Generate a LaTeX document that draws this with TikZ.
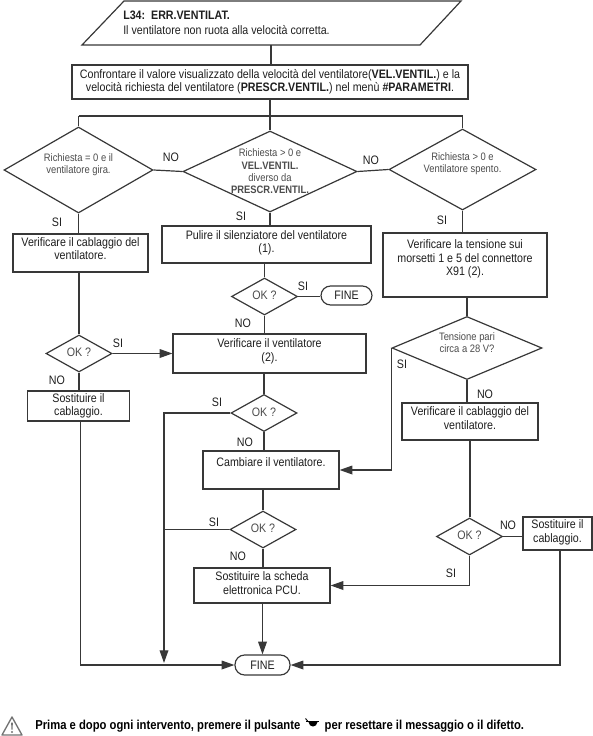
\documentclass[tikz,border=0pt]{standalone}
\usepackage{fontspec}
\setmainfont[FakeStretch=0.87]{Liberation Sans}
\usetikzlibrary{arrows.meta,shapes.geometric,calc}
\definecolor{ink}{gray}{0.22}
\definecolor{txt}{gray}{0.12}
\definecolor{dtx}{gray}{0.30}
\newcommand{\ztext}[3]{\smash{\makebox[0pt][#1]{\raisebox{#2}{\begin{tabular}{@{}#1@{}}#3\end{tabular}}}}}
\tikzset{
  x=0.75pt,y=-0.75pt,
  body/.style={font=\fontsize{9.2}{10}\selectfont,text=txt},
  box/.style={draw=ink,line width=.9pt,fill=white,inner sep=0pt,align=center,body},
  wh/.style n args={2}{minimum width=#1*0.75pt,minimum height=#2*0.75pt},
  tup/.style={text depth=#1},
  lab/.style={body,inner sep=0pt},
  dec/.style={draw=ink,line width=.9pt,fill=white,diamond,inner sep=0pt,text=dtx,font=\fontsize{8.1}{9.3}\selectfont},
  okd/.style={dec,wh={66}{37},font=\fontsize{9.2}{10}\selectfont},
  pill/.style={draw=ink,line width=.9pt,fill=white,rounded corners=7.2pt,inner sep=0pt,body},
  ln/.style={draw=ink,line width=.9pt},
  ar/.style={ln,-{Triangle[length=9.5pt,width=6.5pt]}},
}
\begin{document}
\begin{tikzpicture}
\useasboundingbox (0,0) rectangle (593,736);
% start
\coordinate (pa) at (124,1); \coordinate (pb) at (461,1); \coordinate (pc) at (420,45); \coordinate (pd) at (82,45);
\coordinate (sb) at (271,45);
\draw[ln,line join=miter] (pa)--(pb)--(pc)--(pd)--cycle;
\node[anchor=west,inner sep=0pt,align=left,text=txt,font=\fontsize{9.2}{11.2}\selectfont] (start) at (123,22.5) {\textbf{L34:\ \ ERR.VENTILAT.}\\Il ventilatore non ruota alla velocità corretta.};
\node[box,wh={396}{34}] (conf) at (270,82) {Confrontare il valore visualizzato della velocità del ventilatore(\textbf{VEL.VENTIL.}) e la\\velocità richiesta del ventilatore (\textbf{PRESCR.VENTIL.}) nel menù \textbf{\#PARAMETRI}.};
% decisions row
\node[dec,wh={149}{86}] (dL) at (78.5,170) {\ztext{c}{1.7pt}{Richiesta = 0 e il\\ventilatore gira.}};
\node[dec,wh={174}{81}] (dM) at (270,171.5) {\ztext{c}{-3pt}{Richiesta > 0 e\\\textbf{VEL.VENTIL.}\\diverso da\\\textbf{PRESCR.VENTIL.}}};
\node[dec,wh={147}{81}] (dR) at (462.5,169.5) {\ztext{c}{2.2pt}{Richiesta > 0 e\\Ventilatore spento.}};
\coordinate (jl) at (dL.north|-0,116);
\coordinate (jm) at (dM.north|-0,116);
\coordinate (jr) at (dR.north|-0,116);
\draw[ln] (sb)--(sb|-conf.north);
\draw[ln] (jm|-conf.south)--(jm);
\draw[ln] (jl)--(jr);
\draw[ln] (jl)--(dL.north);
\draw[ln] (jm)--(dM.north);
\draw[ln] (jr)--(dR.north);
\draw[ln] (dL.east)--(dM.west);
\draw[ln] (dM.east)--(dR.west);
\node[lab] (n1) at (171,157) {NO};
\node[lab] (n2) at (371,160) {NO};
\node[lab] (s1) at (57,222) {SI};
\node[lab] (s2) at (241,216) {SI};
\node[lab] (s3) at (442,220) {SI};
% second row
\node[box,wh={135}{38},tup=6.5pt] (vc) at (80.5,253) {Verificare il cablaggio del\\ventilatore.};
\node[box,wh={209}{37},tup=4.3pt] (pu) at (266.5,244.5) {Pulire il silenziatore del ventilatore\\(1).};
\node[box,wh={164}{64},tup=11pt] (vt) at (465,265) {Verificare la tensione sui\\morsetti 1 e 5 del connettore\\X91 (2).};
\draw[ln] (dL.south)--(dL.south|-vc.north);
\draw[ln] (dM.south)--(dM.south|-pu.north);
\draw[ln] (dR.south)--(dR.south|-vt.north);
% middle column
\node[okd] (ok1) at (264.5,296.5) {\ztext{c}{-2.2pt}{OK ?}};
\node[pill,wh={51}{19}] (f1) at (346.5,295.5) {FINE};
\draw[ln] (ok1.north|-pu.south)--(ok1.north);
\draw[ln] (ok1.east)--(ok1.east-|f1.west);
\node[lab] (s4) at (303,286) {SI};
\node[lab] (n3) at (243,323) {NO};
\node[box,wh={193}{39},tup=5pt] (vv) at (269.5,353.5) {Verificare il ventilatore\\(2).};
\draw[ln] (ok1.south)--(ok1.south|-vv.north);
% left column
\node[okd] (ok0) at (79,353.5) {\ztext{c}{-2.6pt}{OK ?}};
\draw[ln] (ok0.north|-vc.south)--(ok0.north);
\draw[ar] (ok0.east)--(ok0.east-|vv.west);
\node[lab] (s5) at (118,343) {SI};
\node[lab] (n4) at (57,380) {NO};
\node[box,wh={101.5}{30}] (so) at (78.5,406) {Sostituire il\\cablaggio.};
\draw[ln] (ok0.south)--(ok0.south|-so.north);
% middle lower
\node[okd] (ok2) at (264,413) {\ztext{c}{-2.6pt}{OK ?}};
\draw[ln] (ok2.north|-vv.south)--(ok2.north);
\node[lab] (s6) at (217,402) {SI};
\node[lab] (n5) at (245,442) {NO};
\node[box,wh={136}{38},tup=12.5pt] (ca) at (271,470) {Cambiare il ventilatore.};
\draw[ln] (ok2.south)--(ok2.south|-ca.north);
\node[okd] (ok3) at (263,529.5) {\ztext{c}{-2.6pt}{OK ?}};
\draw[ln] (ok3.north|-ca.south)--(ok3.north);
\node[lab] (s7) at (214,522) {SI};
\node[lab] (n6) at (238,556) {NO};
\node[box,wh={136}{35},tup=3.5pt] (sc) at (262,585.5) {Sostituire la scheda\\elettronica PCU.};
\draw[ln] (ok3.south)--(ok3.south|-sc.north);
\node[pill,wh={55}{20}] (f2) at (262.5,665) {FINE};
\draw[ar] (sc.south-|f2.north)--(f2.north);
\coordinate (c1) at (164,663);
\coordinate (lt) at (80.5,421);
\coordinate (rt) at (560,550);
\draw[ar] (lt|-so.south)|-(f2.west);
\draw[ar] (ok2.west)-|(c1);
\draw[ln] (ok3.west)--(ok3.west-|c1);
% right column
\node[dec,wh={150}{63}] (dT) at (467,348) {\ztext{c}{1.2pt}{Tensione pari\\circa a 28 V?}};
\draw[ln] (dT.north|-vt.south)--(dT.north);
\draw[ar] (dT.west)|-(ca.east);
\node[lab] (s8) at (402,364) {SI};
\node[lab] (n7) at (485,394) {NO};
\node[box,wh={136}{37},tup=5pt] (vc2) at (470,421.5) {Verificare il cablaggio del\\ventilatore.};
\draw[ln] (dT.south)--(dT.south|-vc2.north);
\node[okd] (ok4) at (469.5,536.5) {\ztext{c}{-2.6pt}{OK ?}};
\draw[ln] (vc2.south)--(vc2.south|-ok4.north);
\node[box,wh={69}{33},tup=3.5pt] (so2) at (557.5,533.5) {Sostituire il\\cablaggio.};
\draw[ln] (ok4.east)--(ok4.east-|so2.west);
\node[lab] (n8) at (508,525) {NO};
\draw[ar] (ok4.south)|-(sc.east);
\node[lab] (s9) at (451,573) {SI};
\draw[ar] (rt|-so2.south)|-(f2.east);
% note
\draw[draw=black!55,line width=1pt,line join=round] (2,735)--(12,717)--(22,735)--cycle;
\fill[black!55] (11.1,722.5)--(12.9,722.5)--(12.5,729.5)--(11.5,729.5)--cycle;
\fill[black!55] (12,732) circle (1.1);
\node[anchor=base west,inner sep=0pt,font=\bfseries\fontsize{9.7}{10}\selectfont,text=black] (note) at (35,729) {Prima e dopo ogni intervento, premere il pulsante\hspace{18.2pt}per resettare il messaggio o il difetto.};
\fill[black] (306,720.7) rectangle (319,722.3);
\fill[black] (308.5,722) .. controls (309,728) and (317,728) .. (317.5,722) -- cycle;
\draw[black,line width=.7pt] (305.5,718.5)--(308,721.5);
\end{tikzpicture}
\end{document}
